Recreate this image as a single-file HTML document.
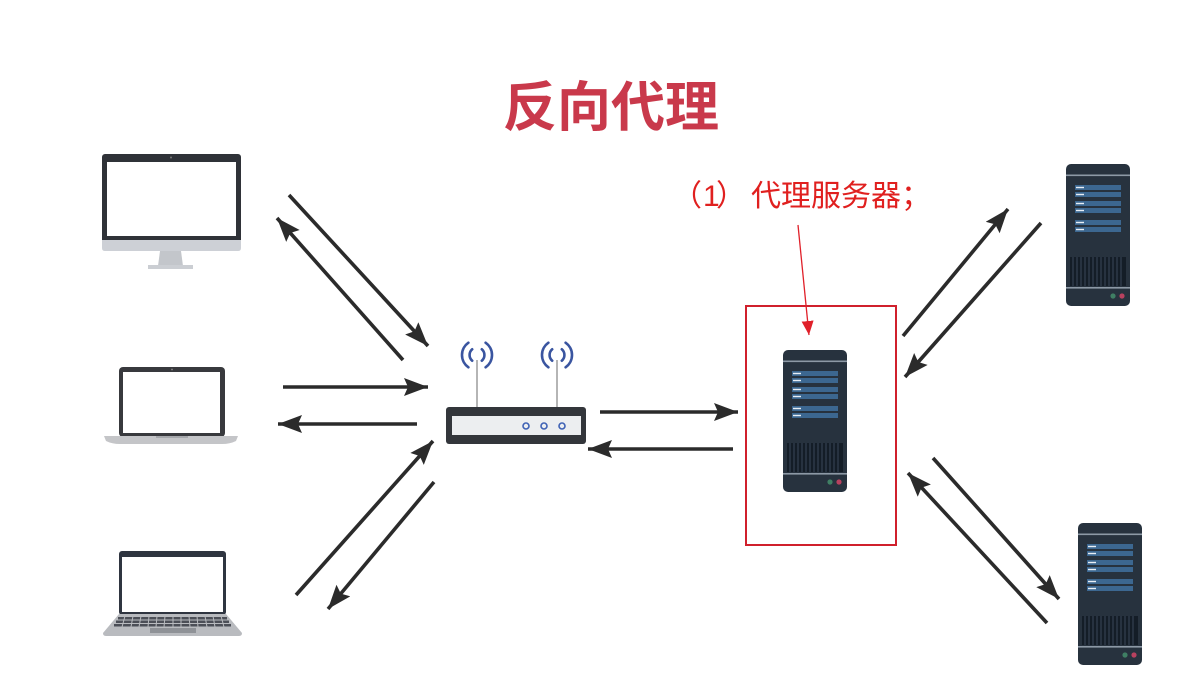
<!DOCTYPE html>
<html><head><meta charset="utf-8"><style>
html,body{margin:0;padding:0;background:#fff;}
svg{display:block;}
</style></head><body>
<svg width="1203" height="691" viewBox="0 0 1203 691" xmlns="http://www.w3.org/2000/svg">
<defs>
<marker id="ah" markerUnits="userSpaceOnUse" markerWidth="30" markerHeight="20" refX="24" refY="9" orient="auto">
<path d="M0,0 L24,9 L0,18 L4,9 Z" fill="#2b2b2b"/>
</marker>
<marker id="rh" markerUnits="userSpaceOnUse" markerWidth="16" markerHeight="14" refX="14" refY="6" orient="auto">
<path d="M0,0 L14,6 L0,12 Z" fill="#e0202a"/>
</marker>
<g id="srv">
<rect x="0" y="0" width="64" height="142" rx="5" fill="#27323e"/>
<rect x="0" y="10.5" width="64" height="1.6" fill="#8d99a6"/>
<g fill="#3c6790">
<rect x="9" y="21" width="46" height="5"/><rect x="9" y="28" width="46" height="5"/>
<rect x="9" y="37" width="46" height="5"/><rect x="9" y="44" width="46" height="5"/>
<rect x="9" y="56" width="46" height="5"/><rect x="9" y="63" width="46" height="5"/>
</g>
<g fill="#e8eef5">
<rect x="10" y="22.8" width="8" height="1.4"/><rect x="10" y="29.8" width="8" height="1.4"/>
<rect x="10" y="38.8" width="8" height="1.4"/><rect x="10" y="45.8" width="8" height="1.4"/>
<rect x="10" y="57.8" width="8" height="1.4"/><rect x="10" y="64.8" width="8" height="1.4"/>
</g>
<rect x="4" y="93" width="56" height="29" fill="#141d27"/>
<g stroke="#3a4858" stroke-width="1">
<line x1="7" y1="93" x2="7" y2="122"/><line x1="11" y1="93" x2="11" y2="122"/><line x1="15" y1="93" x2="15" y2="122"/>
<line x1="19" y1="93" x2="19" y2="122"/><line x1="23" y1="93" x2="23" y2="122"/><line x1="27" y1="93" x2="27" y2="122"/>
<line x1="31" y1="93" x2="31" y2="122"/><line x1="35" y1="93" x2="35" y2="122"/><line x1="39" y1="93" x2="39" y2="122"/>
<line x1="43" y1="93" x2="43" y2="122"/><line x1="47" y1="93" x2="47" y2="122"/><line x1="51" y1="93" x2="51" y2="122"/>
<line x1="55" y1="93" x2="55" y2="122"/>
</g>
<rect x="0" y="123" width="64" height="1.6" fill="#8d99a6"/>
<circle cx="47" cy="132" r="2.6" fill="#3f7f64"/>
<circle cx="56" cy="132" r="2.6" fill="#b8415f"/>
</g>
<g id="wave" fill="none" stroke="#3a55a0" stroke-width="2.6" stroke-linecap="round">
<path d="M-8.6,-12.3 A15,15 0 0 0 -8.6,12.3"/>
<path d="M-4.8,-5.7 A7.5,7.5 0 0 0 -4.8,5.7"/>
<path d="M8.6,-12.3 A15,15 0 0 1 8.6,12.3"/>
<path d="M4.8,-5.7 A7.5,7.5 0 0 1 4.8,5.7"/>
</g>
</defs>

<!-- Title -->
<text x="611" y="126" text-anchor="middle" font-family="'Liberation Sans','Noto Sans CJK SC',sans-serif" font-weight="bold" font-size="54" fill="#c9394b">反向代理</text>

<!-- Label -->
<text y="206" font-family="'Liberation Sans','Noto Sans CJK SC',sans-serif" font-size="30" fill="#e0201f"><tspan x="672">（</tspan><tspan x="703">1</tspan><tspan x="716">）</tspan><tspan x="751">代理服务器；</tspan></text>

<!-- Monitor -->
<rect x="102" y="154" width="139" height="90" rx="3" fill="#2f3238"/>
<rect x="107" y="162" width="129" height="74" fill="#ffffff"/>
<circle cx="171" cy="157.5" r="1" fill="#777"/>
<path d="M102,240 H241 V248 Q241,251 238,251 H105 Q102,251 102,248 Z" fill="#cdd0d6"/>
<path d="M160,251 H181 L183,266 H158 Z" fill="#c3c6cb"/>
<rect x="148" y="265" width="45" height="4" fill="#cbced3"/>

<!-- Laptop mid -->
<rect x="119" y="367" width="106" height="70" rx="4" fill="#38393d"/>
<rect x="123" y="372" width="97" height="61" fill="#ffffff"/>
<circle cx="172" cy="369.5" r="0.9" fill="#888"/>
<path d="M104,436 H238 L236,441 Q230,444 222,444 H120 Q112,444 106,441 Z" fill="#c4c5c8"/>
<rect x="156" y="436" width="32" height="2" fill="#a5a7ab"/>

<!-- Laptop bottom -->
<rect x="119" y="551" width="107" height="64" rx="3" fill="#2f3540"/>
<rect x="122" y="557" width="101" height="55" fill="#ffffff"/>
<path d="M119,614 H226 L242,633 Q242,636 239,636 H106 Q103,636 103,633 Z" fill="#b9bbbf"/>
<g fill="#4c4f57">
<rect x="118" y="617" width="109" height="2.5"/>
<rect x="116" y="620.5" width="113" height="2.5"/>
<rect x="114" y="624" width="117" height="2.5"/>
</g>
<g stroke="#b9bbbf" stroke-width="1">
<line x1="125" y1="616" x2="122" y2="627"/><line x1="133" y1="616" x2="131" y2="627"/><line x1="141" y1="616" x2="139" y2="627"/>
<line x1="149" y1="616" x2="148" y2="627"/><line x1="157" y1="616" x2="156" y2="627"/><line x1="165" y1="616" x2="164" y2="627"/>
<line x1="173" y1="616" x2="173" y2="627"/><line x1="181" y1="616" x2="181" y2="627"/><line x1="189" y1="616" x2="190" y2="627"/>
<line x1="197" y1="616" x2="198" y2="627"/><line x1="205" y1="616" x2="207" y2="627"/><line x1="213" y1="616" x2="215" y2="627"/>
<line x1="221" y1="616" x2="224" y2="627"/>
</g>
<rect x="150" y="628" width="46" height="5" fill="#8f9297"/>

<!-- Router -->
<line x1="477" y1="360" x2="477" y2="408" stroke="#b5b5b5" stroke-width="2"/>
<line x1="557" y1="360" x2="557" y2="408" stroke="#b5b5b5" stroke-width="2"/>
<use href="#wave" transform="translate(477,355)"/>
<use href="#wave" transform="translate(557,355)"/>
<rect x="446" y="407" width="140" height="37" rx="3" fill="#33363b"/>
<rect x="452" y="416" width="129" height="19" fill="#eceef0"/>
<g fill="none" stroke="#3f62b5" stroke-width="1.6">
<circle cx="526" cy="426" r="3"/><circle cx="544" cy="426" r="3"/><circle cx="562" cy="426" r="3"/>
</g>

<!-- Servers -->
<use href="#srv" transform="translate(783,350)"/>
<use href="#srv" transform="translate(1066,164)"/>
<use href="#srv" transform="translate(1078,523)"/>

<!-- Red box & pointer -->
<rect x="746" y="306" width="150" height="239" fill="none" stroke="#d0202c" stroke-width="2"/>
<line x1="798" y1="225" x2="809" y2="335" stroke="#e0202a" stroke-width="1.3" marker-end="url(#rh)"/>

<!-- Arrows -->
<g stroke="#2b2b2b" stroke-width="3.6" fill="none" marker-end="url(#ah)">
<line x1="289" y1="195" x2="428" y2="346"/>
<line x1="403" y1="360" x2="277" y2="218"/>
<line x1="283" y1="387" x2="428" y2="387"/>
<line x1="417" y1="424" x2="278" y2="424"/>
<line x1="296" y1="595" x2="433" y2="441"/>
<line x1="434" y1="482" x2="328" y2="609"/>
<line x1="600" y1="412" x2="738" y2="412"/>
<line x1="733" y1="449" x2="588" y2="449"/>
<line x1="903" y1="336" x2="1008" y2="209"/>
<line x1="1041" y1="223" x2="905" y2="377"/>
<line x1="933" y1="458" x2="1059" y2="599"/>
<line x1="1047" y1="623" x2="908" y2="473"/>
</g>
</svg>
</body></html>
